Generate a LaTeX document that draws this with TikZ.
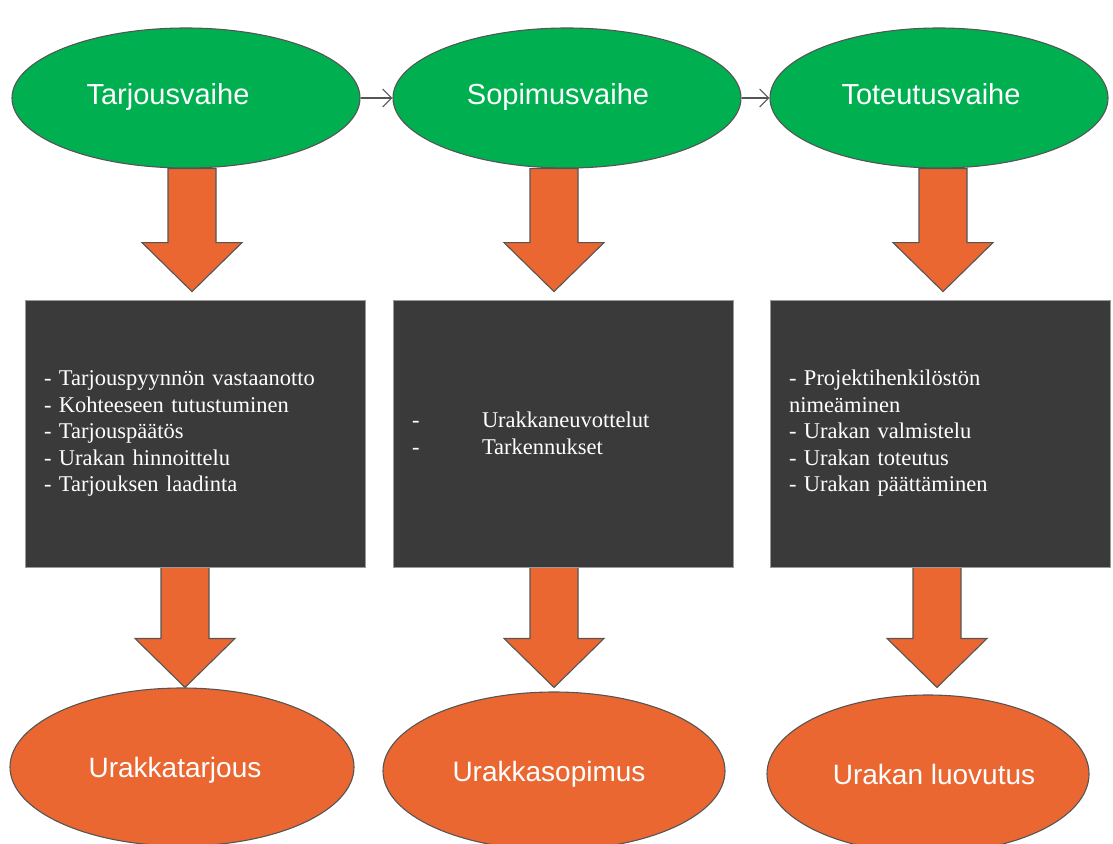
\documentclass[tikz,border=0pt]{standalone}
\usepackage{fontspec}
\setmainfont{Liberation Serif}
\setsansfont{Liberation Sans}
\usetikzlibrary{arrows.meta,shapes.geometric,calc,backgrounds}
\definecolor{phasegreen}{RGB}{0,176,80}
\definecolor{stageorange}{RGB}{234,103,49}
\definecolor{taskgray}{RGB}{58,58,58}
\definecolor{edgegray}{RGB}{85,85,85}
\tikzset{
    phase/.style={ellipse, draw=edgegray, line width=1.1pt, fill=phasegreen,
        inner sep=0pt, text=white, text height=20pt, text depth=8pt,
        font=\sffamily\fontsize{29}{34}\selectfont},
    result/.style={ellipse, draw=edgegray, line width=1.1pt, fill=stageorange,
        inner sep=0pt, text=white, text height=24pt, text depth=4pt,
        font=\sffamily\fontsize{28}{33}\selectfont},
    taskbox/.style={rectangle, draw=edgegray!60, line width=0.8pt, fill=taskgray,
        minimum height=267pt, text width=302pt, inner xsep=19pt, align=left,
        text=white, font=\fontsize{22.5}{26.5}\selectfont},
    phasearrow/.style={-{Straight Barb[length=9pt,width=18pt]}, edgegray, line width=1.1pt},
    blockarrow/.style={draw=edgegray, line width=1.1pt, fill=stageorange, line join=miter}
}
% block arrow pointing down, tip at the second point
\newcommand{\blockdown}[2]{%
    \draw[blockarrow] let \p1=(#1), \p2=(#2) in
        ({\x1-24pt},\y1) -- ({\x1+24pt},\y1) -- ({\x1+24pt},{\y2+49pt})
        -- ({\x1+50pt},{\y2+49pt}) -- (\x1,\y2) -- ({\x1-50pt},{\y2+49pt})
        -- ({\x1-24pt},{\y2+49pt}) -- cycle;
}

\begin{document}
\begin{tikzpicture}[x=1pt, y=-1pt]
    \useasboundingbox (0,0) rectangle (1113,843);

    \node[phase, minimum width=348pt, minimum height=140pt] (tarjous)
        at (186,98) {\hspace*{-36pt}Tarjousvaihe};
    \node[phase, minimum width=348pt, minimum height=140pt] (sopimus)
        at (567,98) {\hspace*{-18pt}Sopimusvaihe};
    \node[phase, minimum width=338pt, minimum height=140pt] (toteutus)
        at (939,98) {\hspace*{-16pt}Toteutusvaihe};

    \node[taskbox] (tarjousbox) at (195,433.5)
        {- Tarjouspyynnön vastaanotto\\- Kohteeseen tutustuminen\\- Tarjouspäätös\\
         - Urakan hinnoittelu\\- Tarjouksen laadinta};
    \node[taskbox] (sopimusbox) at (563,433.5)
        {\makebox[70pt][l]{-}Urakkaneuvottelut\\\makebox[70pt][l]{-}Tarkennukset};
    \node[taskbox] (toteutusbox) at (940,433.5)
        {- Projektihenkilöstön\\nimeäminen\\- Urakan valmistelu\\
         - Urakan toteutus\\- Urakan päättäminen};

    \node[result, minimum width=344pt, minimum height=158pt] (urakkatarjous)
        at (182,767) {\hspace*{-14pt}Urakkatarjous};
    \node[result, minimum width=342pt, minimum height=158pt] (urakkasopimus)
        at (554,771) {\hspace*{-10pt}Urakkasopimus};
    \node[result, minimum width=322pt, minimum height=158pt] (luovutus)
        at (928,774) {\hspace*{12pt}Urakan luovutus};

    \draw[phasearrow] (tarjous) -- (sopimus);
    \draw[phasearrow] (sopimus) -- (toteutus);

    \begin{scope}[on background layer]
        \blockdown{[xshift=6pt]tarjous.south}{[yshift=8pt]tarjousbox.north}
        \blockdown{[xshift=-13pt]sopimus.south}{[yshift=8pt]sopimusbox.north}
        \blockdown{[xshift=4pt]toteutus.south}{[yshift=8pt]toteutusbox.north}
        \blockdown{[xshift=-10pt]tarjousbox.south}{urakkatarjous.north}
        \blockdown{[xshift=-9pt]sopimusbox.south}{[yshift=4pt]urakkasopimus.north}
        \blockdown{[xshift=-3pt]toteutusbox.south}{[yshift=7pt]luovutus.north}
    \end{scope}
\end{tikzpicture}
\end{document}
